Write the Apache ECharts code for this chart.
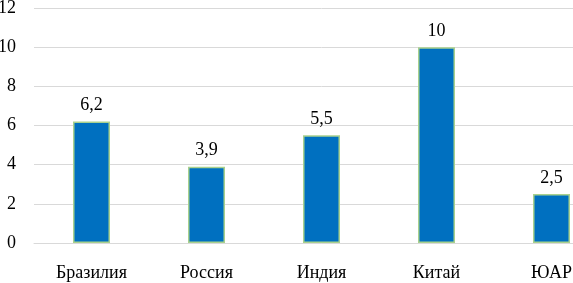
<!DOCTYPE html>
<html><head><meta charset="utf-8">
<script src="https://cdn.jsdelivr.net/npm/echarts@6/dist/echarts.min.js"></script>
<style>html,body{margin:0;padding:0;background:#fff;overflow:hidden;width:573px;height:283px}#c{width:609px;height:283px}</style>
</head><body><div id="c"></div>
<script>
const categories = ['Бразилия', 'Россия', 'Индия', 'Китай', 'ЮАР'];
const values = [6.2, 3.9, 5.5, 10, 2.5];
const chart = echarts.init(document.getElementById('c'), null, {renderer: 'canvas'});
const font = '"Liberation Serif", "Times New Roman", serif';
chart.setOption({
  animation: false,
  grid: {left: 34, right: 0, top: 8, bottom: 40, containLabel: false, outerBoundsMode: 'none'},
  xAxis: {
    type: 'category', data: categories,
    axisLine: {lineStyle: {color: '#d9d9d9', width: 1}},
    axisTick: {show: false},
    axisLabel: {color: '#000', fontFamily: font, fontSize: 18, margin: 21}
  },
  yAxis: {
    type: 'value', min: 0, max: 12, interval: 2,
    axisLine: {show: false}, axisTick: {show: false},
    splitLine: {lineStyle: {color: '#d9d9d9', width: 1}},
    axisLabel: {color: '#000', fontFamily: font, fontSize: 18, margin: 18}
  },
  series: [{
    type: 'bar', data: values, barWidth: 37,
    itemStyle: {color: '#0070c0', borderColor: '#a9d18e', borderWidth: 1.5},
    label: {show: true, position: 'top', distance: 7, color: '#000', fontFamily: font, fontSize: 18,
      formatter: p => String(p.value).replace('.', ',')}
  }]
});
</script></body></html>
